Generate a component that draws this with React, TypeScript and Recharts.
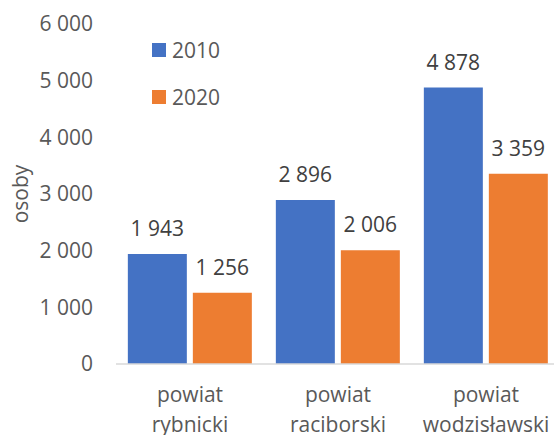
import React from 'react'
import { BarChart, Bar, XAxis, YAxis, Legend, LabelList } from 'recharts'

const categories = ['powiat rybnicki', 'powiat raciborski', 'powiat wodzisławski']
const values2010 = [1943, 2896, 4878]
const values2020 = [1256, 2006, 3359]
const yTicks = [0, 1000, 2000, 3000, 4000, 5000, 6000]

const BLUE = '#4472C4'
const ORANGE = '#ED7D31'
const FONT = '"Open Sans", sans-serif'
const FS = 21

const data = categories.map((name, i) => ({
  name,
  y2010: values2010[i],
  y2020: values2020[i],
}))

const fmt = (v: number) => String(v).replace(/\B(?=(\d{3})+(?!\d))/g, ' ')

const CategoryTick = (props: any) => {
  const { x, y, payload } = props
  const words = String(payload.value).split(' ')
  return (
    <text x={x} y={y} textAnchor="middle" fill="#595959" fontSize={FS} fontFamily={FONT}>
      {words.map((w, i) => (
        <tspan key={i} x={x} dy={i === 0 ? 38 : 30}>
          {w}
        </tspan>
      ))}
    </text>
  )
}

const LegendBox = (props: any) => {
  const { payload } = props
  return (
    <div style={{ fontFamily: FONT, fontSize: FS, color: '#595959' }}>
      {payload.map((p: any, i: number) => (
        <div key={i} style={{ display: 'flex', alignItems: 'center', height: 47 }}>
          <span style={{ width: 14, height: 14, background: p.color, marginRight: 6 }} />
          <span>{p.value}</span>
        </div>
      ))}
    </div>
  )
}

export default function App() {
  return (
    <div
      style={{
        position: 'absolute',
        top: 0,
        left: 0,
        width: 554,
        height: 435,
        overflow: 'hidden',
        background: '#fff',
      }}
    >
      <BarChart
        width={560}
        height={435}
        data={data}
        margin={{ top: 24, right: 0, bottom: 0, left: 0 }}
        barCategoryGap="8%"
        barGap={6}
        style={{ overflow: 'visible' }}
      >
        <XAxis
          dataKey="name"
          height={71}
          tickLine={false}
          tickSize={0}
          tickMargin={0}
          axisLine={{ stroke: '#D9D9D9', strokeWidth: 1.5 }}
          tick={<CategoryTick />}
          interval={0}
        />
        <YAxis
          width={116}
          domain={[0, 6000]}
          ticks={yTicks}
          tickFormatter={fmt}
          axisLine={false}
          tickLine={false}
          tickSize={0}
          tickMargin={23}
          tick={{ fill: '#595959', fontSize: FS, fontFamily: FONT }}
          label={{
            value: 'osoby',
            angle: -90,
            position: 'center',
            dx: -37,
            fill: '#595959',
            fontSize: FS,
            fontFamily: FONT,
          }}
        />
        <Legend
          layout="horizontal"
          verticalAlign="middle"
          align="center"
          content={<LegendBox />}
          wrapperStyle={{ top: 26, left: 152, width: 'auto' }}
        />
        <Bar dataKey="y2010" name="2010" fill={BLUE} isAnimationActive={false}>
          <LabelList
            dataKey="y2010"
            position="top"
            offset={18}
            formatter={fmt}
            fill="#404040"
            fontSize={FS}
            fontFamily={FONT}
          />
        </Bar>
        <Bar dataKey="y2020" name="2020" fill={ORANGE} isAnimationActive={false}>
          <LabelList
            dataKey="y2020"
            position="top"
            offset={18}
            formatter={fmt}
            fill="#404040"
            fontSize={FS}
            fontFamily={FONT}
          />
        </Bar>
      </BarChart>
    </div>
  )
}
